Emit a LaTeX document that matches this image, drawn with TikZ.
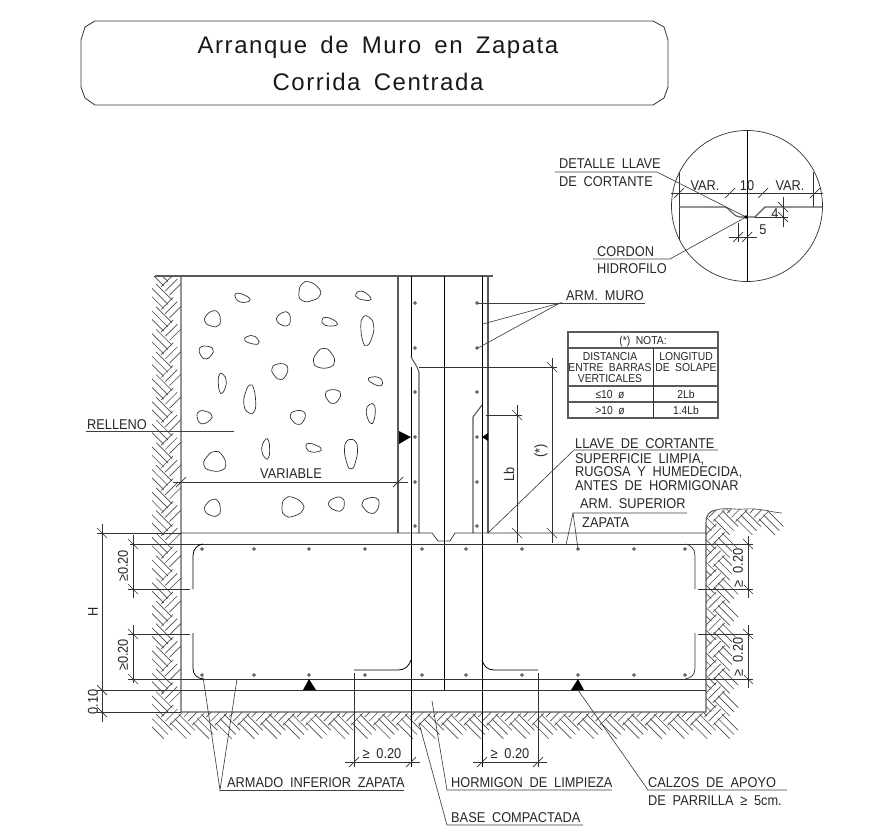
\documentclass[tikz,border=0pt]{standalone}
\usepackage{fontspec}
\setmainfont[FakeStretch=0.9,WordSpace=1.9]{Liberation Sans}
\newfontfamily\titlefont[WordSpace=1.6,LetterSpace=6.5]{Liberation Sans}
\usetikzlibrary{calc}
\usetikzlibrary{positioning}

\tikzset{
	x=1pt,y=-1pt,
	wall/.style={draw=black!65,line width=1.1pt},
	thinline/.style={draw=black!80,line width=0.7pt},
	bar/.style={draw=black,line width=0.8pt},
	soilline/.style={draw=black!70,line width=0.65pt},
	leader/.style={draw=black!75,line width=0.65pt},
	txt/.style={anchor=base west,inner sep=0pt,font=\fontsize{14.2}{15}\selectfont,text=black!85},
	txtc/.style={anchor=base,inner sep=0pt,font=\fontsize{14.2}{15}\selectfont,text=black!85},
	txtr/.style={rotate=90,anchor=center,inner sep=0pt,font=\fontsize{14.2}{15}\selectfont,text=black!85},
	tabtxt/.style={anchor=base,inner sep=0pt,font=\fontsize{11.5}{12}\selectfont,text=black!85},
	titletxt/.style={anchor=center,inner sep=0pt,font=\titlefont\fontsize{24}{26}\selectfont,text=black!90},
	rock/.style={draw=black!80,line width=0.7pt},
}
% ticks on dimension lines
\newcommand{\tickh}[2]{\draw[thinline] (#1-5,#2+5) -- (#1+5,#2-5);}
\newcommand{\tickv}[2]{\draw[thinline] (#1-5,#2-5) -- (#1+5,#2+5);}

\begin{document}
\begin{tikzpicture}
	\useasboundingbox (0,0) rectangle (870,840);

	% title
	\draw[draw=black!80,line width=0.8pt] (95,21) -- (653,21) -- (664,27) -- (668,40) -- (668,87) -- (664,98) -- (653,105) -- (95,105) -- (85,98) -- (81,87) -- (81,40) -- (85,27) -- cycle;
	\node[titletxt] (title one) at (378,47) {Arranque de Muro en Zapata};
	\node[titletxt] (title two) at (378,82) {Corrida Centrada};

	% soil
	\begin{scope}
		\clip (152,276) -- (181,276) -- (181,712) -- (706,712) -- (706,523) .. controls (706,514) and (710,511) .. (716,510) .. controls (726,507) and (735,510) .. (745,509) .. controls (760,508) and (770,512) .. (790,513) -- (790,745) -- (152,745) -- cycle;
		\foreach \m in {24,...,65} {
			\foreach \k in {14,...,70} {
				\pgfmathtruncatemacro{\cell}{(mod(\k+\m,2)==0 && ((\k<16 && \m<65) || (\m>62 && \m<65 && \k<65) || (\k>61 && \k<65 && \m<65) || (\m<47 && \m>44 && \k>61 && \k<69))) ? 1 : 0}
				\ifnum\cell=1
					\pgfmathsetmacro{\cx}{\k*11.32+1.5}
					\pgfmathsetmacro{\cy}{\m*11.32+2}
					\ifodd\m
						\foreach \d in {-4.2,0,4.2} {
							\draw[soilline] (\cx-6+\d,\cy+6+\d) -- (\cx+6+\d,\cy-6+\d);
						}
					\else
						\foreach \d in {-4.2,0,4.2} {
							\draw[soilline] (\cx-8+\d,\cy-8-\d) -- (\cx+8+\d,\cy+8-\d);
						}
					\fi
				\fi
			}
		}
	\end{scope}
	\draw[wall] (716,510) .. controls (710,511) and (706,514) .. (706,523) -- (706,712) -- (181,712) -- (181,276);
	\draw[soilline] (716,510) .. controls (726,507) and (735,510) .. (745,509) .. controls (760,508) and (770,512) .. (782,513);

	% wall
	\draw[wall] (155,276) -- (493,276);
	\draw[wall] (398,276) -- (398,533);
	\draw[wall] (488,276) -- (488,533);
	\draw[wall] (419,533) -- (419,372) -- (417,367) -- (411,357);
	\draw[wall] (473,533) -- (473,417) -- (482,405);
	\draw[bar] (411,276) -- (411,357);
	\draw[bar] (411,367) -- (411,767);
	\draw[bar] (482,276) -- (482,767);
	\draw[bar] (444,276) -- (444,690);

	% footing
	\draw[thinline] (181,533) -- (432,533) -- (438,541) -- (450,541) -- (455,533) -- (706,533);
	\draw[thinline] (97,533) -- (181,533);
	\draw[thinline] (130,544) -- (706,544);
	\draw[thinline] (128,679) -- (706,679);
	\draw[thinline] (97,690) -- (706,690);
	\draw[thinline] (97,712) -- (181,712);

	% hooks
	\draw[bar] (193,589) -- (193,556) .. controls (193,549) and (197,545) .. (203,544);
	\draw[bar] (193,633) -- (193,668) .. controls (193,675) and (197,678) .. (203,679);
	\draw[thinline] (695,589) -- (695,556) .. controls (695,549) and (691,545) .. (685,544);
	\draw[thinline] (695,633) -- (695,668) .. controls (695,675) and (691,678) .. (685,679);
	\draw[bar] (354,670) -- (398,670) .. controls (405,670) and (409,666) .. (411,660);
	\draw[bar] (538,670) -- (494,670) .. controls (487,670) and (484,666) .. (482,660);

	% bars in section
	\foreach \x in {202,254,309,365,422,466,522,578,634,685} {
		\draw[thinline,fill=white] (\x,549) circle (1.4);
		\draw[thinline,fill=white] (\x,675) circle (1.4);
	}
	\foreach \y in {303,348,392,437,482,526} {
		\draw[thinline,fill=white] (415,\y) circle (1.3);
		\draw[thinline,fill=white] (477,\y) circle (1.3);
	}

	% blocks
	\fill (309,679) -- (316,690) -- (303,690) -- cycle;
	\fill (578,679) -- (584,690) -- (571,690) -- cycle;
	\fill (411,437) -- (399,431) -- (399,444) -- cycle;
	\fill (482,437) -- (488,433) -- (488,441) -- cycle;

	% fill stones
	\foreach \cx/\cy/\rx/\ry/\ang in {309/292/11/10/0,242/298/8/4/-20,363/296/8/4/-20,213/319/8/8/0,284/319/7/7/0,329/322/8/4/-15,367/330/6.5/15/0,252/340/7.5/4/-15,206/352/7/6.5/0,324/359/10.5/10/0,280/371/8/8/0,222/383/4/10/0,376/381/7.5/4/-20,250/400/6/14.5/0,333/396/7.5/7/0,371/413/4.5/10/0,204/417/7.5/6.5/0,298/417/7.5/7/0,266/449/4/10/0,313/448/8/4/-15,351/453/6.5/15/0,215/462/11/10/0,213/508/8/8.5/0,292/507/11/10/0,337/504/8/7/0,371/505/8.5/8/0} {
		\draw[rock,rotate around={\ang:(\cx,\cy)}] plot[smooth cycle,samples=10,domain=0:324,variable=\t] ({\cx+\rx*(1+0.1*sin(3*\t+\cx*20))*cos(\t)},{\cy+\ry*(1+0.1*sin(3*\t+\cx*20))*sin(\t)});
	}

	% dimensions left
	\draw[thinline] (102,524) -- (102,722);
	\tickv{102}{533} \tickv{102}{690} \tickv{102}{712}
	\draw[thinline] (133,535) -- (133,598);
	\draw[thinline] (133,625) -- (133,683);
	\draw[thinline] (128,589) -- (190,589);
	\draw[thinline] (128,634) -- (190,634);
	\tickv{133}{544} \tickv{133}{589} \tickv{133}{634} \tickv{133}{679}
	\node[txtr] (dim h) at (93,612) {H};
	\node[txtr] (dim zero ten) at (93,702) {0.10};
	\node[txtr] (dim left one) at (123,566) {≥0.20};
	\node[txtr] (dim left two) at (123,655) {≥0.20};

	% dimensions right
	\draw[thinline] (748,536) -- (748,598);
	\draw[thinline] (748,625) -- (748,688);
	\draw[thinline] (698,589) -- (753,589);
	\draw[thinline] (698,634) -- (753,634);
	\tickv{748}{544} \tickv{748}{589} \tickv{748}{634} \tickv{748}{679}
	\draw[thinline] (706,544) -- (753,544);
	\draw[thinline] (706,679) -- (753,679);
	\node[txtr,fill=white,inner sep=1pt] (dim right one) at (738,568) {≥ 0.20};
	\node[txtr,fill=white,inner sep=1pt] (dim right two) at (738,657) {≥ 0.20};

	% dimensions bottom
	\draw[thinline] (354,673) -- (354,767);
	\draw[thinline] (538,673) -- (538,767);
	\draw[thinline] (345,762) -- (420,762);
	\draw[thinline] (473,762) -- (547,762);
	\tickh{354}{762} \tickh{411}{762} \tickh{482}{762} \tickh{538}{762}
	\node[txtc] (dim bottom one) at (382,758) {≥ 0.20};
	\node[txtc] (dim bottom two) at (510,758) {≥ 0.20};

	% dimensions wall
	\draw[thinline] (173,482) -- (408,482);
	\tickh{181}{482} \tickh{398}{482}
	\node[txtc] (variable) at (291,478) {VARIABLE};
	\draw[thinline] (419,367) -- (557,367);
	\draw[thinline] (552,358) -- (552,543);
	\tickv{552}{367} \tickv{552}{533}
	\node[txtr] (star) at (541,451) {(*)};
	\draw[thinline] (486,415) -- (522,415);
	\draw[thinline] (517,405) -- (517,543);
	\tickv{517}{415} \tickv{517}{533}
	\node[txtr] (lb) at (509,474) {Lb};

	% labels and leaders
	\node[txt] (relleno) at (87,429) {RELLENO};
	\coordinate (relleno a) at (86,431);
	\coordinate (relleno b) at (234,431);
	\draw[leader] (relleno a) -- (relleno b);

	\node[txt] (arm muro) at (566,300) {ARM. MURO};
	\coordinate (muro knee) at (560,303);
	\coordinate (muro end) at (645,303);
	\coordinate (muro a) at (478,303);
	\coordinate (muro b) at (483,324);
	\coordinate (muro c) at (478,348);
	\draw[leader] (muro a) -- (muro end);
	\draw[leader] (muro b) -- (muro knee) -- (muro c);

	\node[txt] (llave) at (575,448) {LLAVE DE CORTANTE};
	\coordinate (llave a) at (488,533);
	\coordinate (llave b) at (574,450);
	\coordinate (llave c) at (718,450);
	\draw[leader] (llave a) -- (llave b) -- (llave c);
	\node[txt] (limpia) at (575,463) {SUPERFICIE LIMPIA,};
	\node[txt] (rugosa) at (575,476) {RUGOSA Y HUMEDECIDA,};
	\node[txt] (antes) at (575,490) {ANTES DE HORMIGONAR};

	\node[txt] (superior) at (580,508) {ARM. SUPERIOR};
	\node[txt] (zapata) at (582,527) {ZAPATA};
	\coordinate (sup a) at (566,545);
	\coordinate (sup b) at (573,513);
	\coordinate (sup c) at (687,513);
	\coordinate (sup d) at (578,549);
	\draw[leader] (sup a) -- (sup b) -- (sup c);
	\draw[leader] (sup b) -- (sup d);

	\node[txt] (armado) at (227,787) {ARMADO INFERIOR ZAPATA};
	\coordinate (armado a) at (203,677);
	\coordinate (armado b) at (220,790);
	\coordinate (armado c) at (237,679);
	\coordinate (armado d) at (404,790);
	\draw[leader] (armado a) -- (armado b) -- (armado c);
	\draw[leader] (armado b) -- (armado d);

	\node[txt] (hormigon) at (451,787) {HORMIGON DE LIMPIEZA};
	\coordinate (hormigon a) at (432,701);
	\coordinate (hormigon b) at (447,790);
	\coordinate (hormigon c) at (612,790);
	\draw[leader] (hormigon a) -- (hormigon b) -- (hormigon c);

	\node[txt] (base) at (451,822) {BASE COMPACTADA};
	\coordinate (base a) at (419,723);
	\coordinate (base b) at (447,825);
	\coordinate (base c) at (583,825);
	\draw[leader] (base a) -- (base b) -- (base c);

	\node[txt] (calzos) at (648,787) {CALZOS DE APOYO};
	\node[txt] (parrilla) at (648,805) {DE PARRILLA ≥ 5cm.};
	\coordinate (calzos a) at (578,690);
	\coordinate (calzos b) at (648,790);
	\coordinate (calzos c) at (787,790);
	\draw[leader] (calzos a) -- (calzos b) -- (calzos c);

	% note
	\draw[wall] (568,332) rectangle (718,418);
	\draw[wall] (568,348) -- (718,348);
	\draw[wall] (568,386) -- (718,386);
	\draw[wall] (568,402) -- (718,402);
	\draw[thinline] (653,348) -- (653,418);
	\node[tabtxt] (nota) at (643,344) {(*) NOTA:};
	\node[tabtxt] (dist a) at (610,360) {DISTANCIA};
	\node[tabtxt] (dist b) at (610,371) {ENTRE BARRAS};
	\node[tabtxt] (dist c) at (610,382) {VERTICALES};
	\node[tabtxt] (long a) at (686,360) {LONGITUD};
	\node[tabtxt] (long b) at (686,371) {DE SOLAPE};
	\node[tabtxt] (row a) at (610,398) {≤10 ø};
	\node[tabtxt] (row b) at (686,398) {2Lb};
	\node[tabtxt] (row c) at (610,414) {>10 ø};
	\node[tabtxt] (row d) at (686,414) {1.4Lb};

	% key detail
	\draw[thinline] (747,206) circle (75.5);
	\draw[bar] (747,130) -- (747,282);
	\draw[thinline] (671,193) -- (823,193);
	\draw[thinline] (679,173) -- (679,240);
	\draw[thinline] (813,172) -- (813,207);
	\draw[wall] (679,207) -- (725,207) .. controls (730,208) and (732,216) .. (740,217) -- (755,217) -- (765,207) -- (822,207);
	\tickh{679}{193} \tickh{730}{193} \tickh{763}{193} \tickh{815}{193}
	\draw[thinline] (783,197) -- (783,227);
	\draw[thinline] (755,217) -- (788,217);
	\tickv{783}{207} \tickv{783}{217}
	\draw[thinline] (738,223) -- (738,242);
	\draw[thinline] (729,237) -- (757,237);
	\tickh{738}{237} \tickh{747}{237}
	\node[txtc] (var a) at (705,190) {VAR.};
	\node[txtc] (ten) at (747,190) {10};
	\node[txtc] (var b) at (790,190) {VAR.};
	\node[txtc] (four) at (775,218) {4};
	\node[txtc] (five) at (763,234) {5};
	\node[txt] (detalle a) at (559,168) {DETALLE LLAVE};
	\node[txt] (detalle b) at (559,186) {DE CORTANTE};
	\node[txt] (cordon a) at (597,256) {CORDON};
	\node[txt] (cordon b) at (597,273) {HIDROFILO};
	\coordinate (key dot) at (746,217);
	\coordinate (detalle knee) at (657,172);
	\coordinate (detalle start) at (555,172);
	\coordinate (cordon knee) at (670,259);
	\coordinate (cordon start) at (593,259);
	\draw[leader] (detalle start) -- (detalle knee) -- (key dot);
	\draw[leader] (cordon start) -- (cordon knee) -- (key dot);
	\fill (key dot) circle (1.8);
\end{tikzpicture}
\end{document}
